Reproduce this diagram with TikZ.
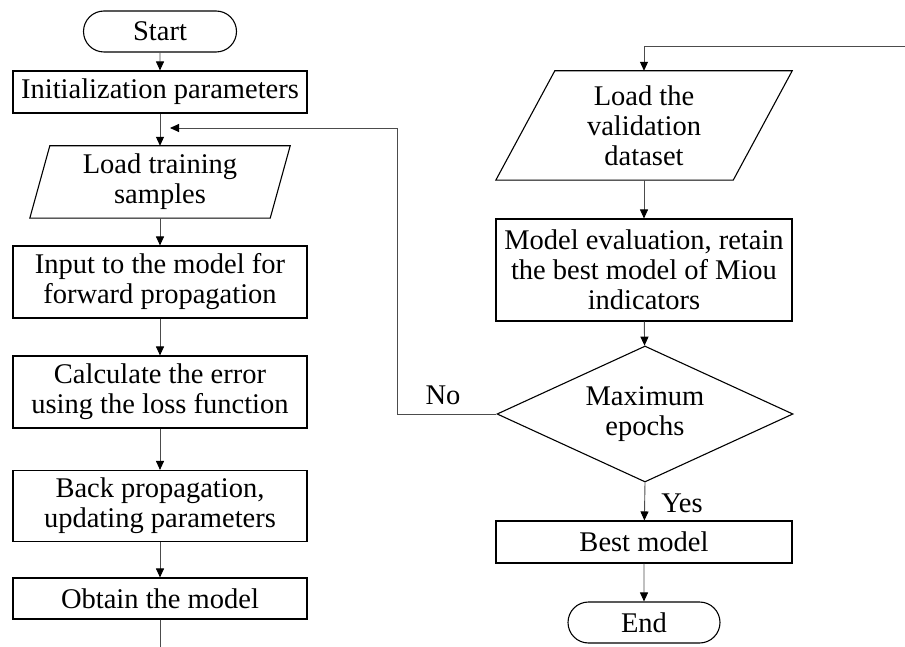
\documentclass[tikz,border=0pt]{standalone}
\usepackage{fontspec}
\setmainfont{Liberation Serif}
\usetikzlibrary{arrows.meta,shapes.geometric,shapes.misc}

\begin{document}
\begin{tikzpicture}[x=1pt,y=-1pt,
  font=\fontsize{28.5}{30}\selectfont,
  every node/.style={inner sep=0pt, align=center},
  frame/.style={draw=black, line width=1.1pt},
  termbox/.style={frame, rounded rectangle, minimum width=153pt, minimum height=41pt},
  procL/.style={frame, rectangle, minimum width=294pt},
  procR/.style={frame, rectangle, minimum width=296pt},
  iobox/.style={rectangle},
  decision/.style={frame, diamond, aspect=2.18, minimum width=296pt, minimum height=136pt},
  conn/.style={draw=black!70, line width=0.9pt, -{Triangle[length=9pt,width=8pt,color=black]}},
  plain/.style={draw=black!70, line width=0.9pt},
  lbl/.style={inner sep=0pt}
]
\useasboundingbox (0,0) rectangle (905,647);

% ---- training branch ----
\node[termbox] (start) at (160,31.5) {Start};
\node[procL, minimum height=42pt] (init) at (160,92) {Initialization parameters};
\node[iobox, minimum width=240pt, minimum height=72pt] (ldtrain) at (160,182)
  {Load training\\samples};
\draw[frame] ([xshift=10pt]ldtrain.north west) -- ([xshift=10pt]ldtrain.north east)
  -- ([xshift=-10pt]ldtrain.south east) -- ([xshift=-10pt]ldtrain.south west) -- cycle;
\node[procL, minimum height=72pt] (input) at (160,282)
  {Input to the model for\\forward propagation};
\node[procL, minimum height=72pt] (calc) at (160,392)
  {Calculate the error\\using the loss function};
\node[procL, minimum height=71pt] (back) at (160,506)
  {Back propagation,\\updating parameters};
\node[procL, minimum height=41pt] (obtain) at (160,598.5) {Obtain the model};
\coordinate (outL) at (160,647);

% ---- validation branch ----
\coordinate (inR) at (905,46);
\node[iobox, minimum width=237pt, minimum height=109pt] (ldval) at (644,125.5)
  {Load the\\validation\\dataset};
\draw[frame] ([xshift=29.5pt]ldval.north west) -- ([xshift=29.5pt]ldval.north east)
  -- ([xshift=-29.5pt]ldval.south east) -- ([xshift=-29.5pt]ldval.south west) -- cycle;
\node[procR, minimum height=102pt] (eval) at (644,270)
  {Model evaluation, retain\\the best model of Miou\\indicators};
\node[decision] (maxep) at (645,414) {Maximum\\epochs};
\node[procR, minimum height=42pt] (best) at (644,542) {Best model};
\node[termbox, minimum width=152pt] (stop) at (644,622.5) {End};

% ---- connectors ----
\draw[conn] (start) -- (init);
\draw[conn] (init) -- (ldtrain);
\draw[conn] (ldtrain) -- (input);
\draw[conn] (input) -- (calc);
\draw[conn] (calc) -- (back);
\draw[conn] (back) -- (obtain);
\draw[plain] (obtain) -- (outL);

\draw[conn] (inR) -| (ldval.north);
\draw[conn] (ldval) -- (eval);
\draw[conn] (eval) -- (maxep);
\draw[conn] (maxep.south) -- (best);
\draw[conn] (best) -- (stop);

\coordinate (loopturn) at (397,414);
\coordinate (loopin) at (170,128);
\draw[conn] (maxep.west) -- (loopturn) |- (loopin);

\node[lbl] (nolbl) at (443,395) {No};
\node[lbl] (yeslbl) at (682,503) {Yes};
\end{tikzpicture}
\end{document}
